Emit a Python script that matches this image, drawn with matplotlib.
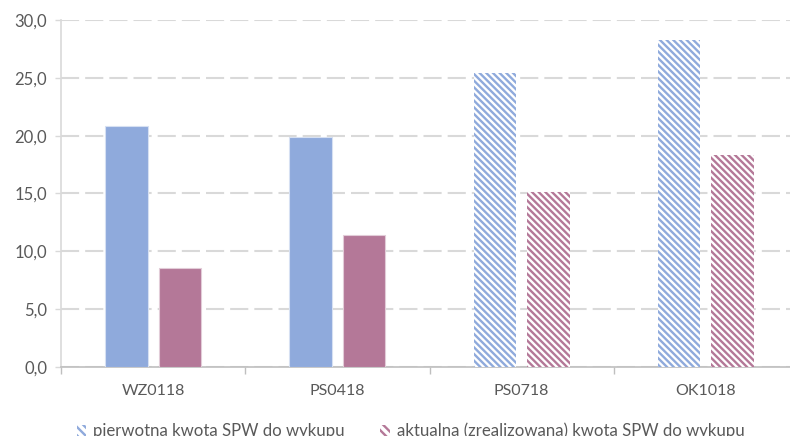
import matplotlib
matplotlib.use("Agg")
import matplotlib.pyplot as plt
from matplotlib.patches import Patch
from matplotlib.ticker import FuncFormatter, FixedLocator
import numpy as np

categories = ["WZ0118", "PS0418", "PS0718", "OK1018"]
pierwotna = [20.8, 19.9, 25.4, 28.3]
aktualna = [8.6, 11.4, 15.1, 18.3]
hatched = [False, False, True, True]
series_labels = ["pierwotna kwota SPW do wykupu",
                 "aktualna (zrealizowana) kwota SPW do wykupu"]

blue = "#8FAADC"
pink = "#B47898"
text_color = "#595959"
grid_color = "#D9D9D9"

plt.rcParams["font.family"] = ["Lato", "DejaVu Sans"]
plt.rcParams["hatch.linewidth"] = 1.7

fig = plt.figure(figsize=(7.9, 4.36), dpi=100)
ax = fig.add_axes([61 / 790, 1 - 367 / 436, (798 - 61) / 790, (367 - 20) / 436])

x = np.arange(len(categories))
width = 0.23
offset = 0.145

for values, color, sign in ((pierwotna, blue, -1), (aktualna, pink, 1)):
    for xi, v, h in zip(x, values, hatched):
        if h:
            ax.bar(xi + sign * offset, v, width, facecolor="white",
                   edgecolor=color, linewidth=0, hatch="\\" * 5, zorder=3)
        else:
            ax.bar(xi + sign * offset, v, width, facecolor=color,
                   edgecolor="#D6E0F2" if color == blue else "#E2CCD8",
                   linewidth=0.8, zorder=3)

ax.set_xlim(-0.5, len(categories) - 0.5)
ax.set_ylim(0, 30)
ax.set_yticks(np.arange(0, 31, 5))
ax.yaxis.set_major_formatter(FuncFormatter(lambda v, p: f"{v:.1f}".replace(".", ",")))

ax.set_xticks(x)
ax.set_xticklabels(categories)
ax.xaxis.set_minor_locator(FixedLocator(np.arange(-0.5, len(categories), 1.0)))
ax.tick_params(axis="x", which="major", length=0, pad=12, labelsize=11.5,
               labelcolor=text_color)
ax.tick_params(axis="x", which="minor", length=5, width=1, color="#BFBFBF")
ax.tick_params(axis="y", length=4, width=1, color="#D9D9D9", pad=6,
               labelsize=12, labelcolor=text_color)

ax.yaxis.grid(True, color=grid_color, linewidth=1.5, linestyle=(0, (8.7, 2.9)), zorder=0)
ax.set_axisbelow(True)
for side in ("top", "right"):
    ax.spines[side].set_visible(False)
ax.spines["left"].set_color("#D9D9D9")
ax.spines["left"].set_linewidth(1.2)
ax.spines["bottom"].set_color("#BFBFBF")
ax.spines["bottom"].set_linewidth(1.2)

handles = [Patch(facecolor="white", edgecolor=blue, linewidth=0, hatch="\\" * 4),
           Patch(facecolor="white", edgecolor=pink, linewidth=0, hatch="\\" * 4)]
fig.legend(handles, series_labels, loc="center", ncol=2,
           bbox_to_anchor=(0.52, 1 - 431 / 436), frameon=False,
           fontsize=12.1, labelcolor=text_color, handlelength=0.55,
           handleheight=0.6, handletextpad=0.45, columnspacing=2.1)

fig.savefig("out.png", dpi=100)
